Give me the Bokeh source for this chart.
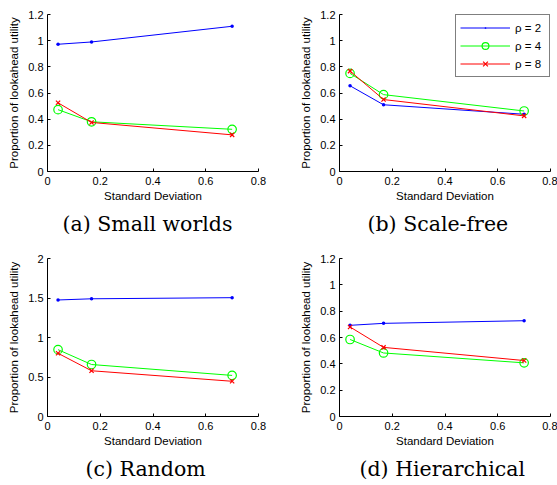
from bokeh.plotting import figure
from bokeh.layouts import column, row
from bokeh.models import FixedTicker, Legend, LegendItem, Range1d, Title
from bokeh.embed import file_html
from bokeh.resources import INLINE

# ---- data ----
std_dev = [0.04, 0.167, 0.7]

sw_rho2 = [0.9725, 0.99, 1.11]
sw_rho4 = [0.4725, 0.38, 0.3225]
sw_rho8 = [0.525, 0.375, 0.28]

sf_rho2 = [0.655, 0.51, 0.4375]
sf_rho4 = [0.75, 0.5875, 0.4625]
sf_rho8 = [0.7675, 0.55, 0.425]

rn_rho2 = [1.475, 1.49, 1.504]
rn_rho4 = [0.846, 0.658, 0.52]
rn_rho8 = [0.80, 0.579, 0.446]

hi_rho2 = [0.6925, 0.7075, 0.7275]
hi_rho4 = [0.585, 0.4825, 0.4075]
hi_rho8 = [0.68, 0.525, 0.425]

x_ticks = [0, 0.2, 0.4, 0.6, 0.8]
x_tick_labels = ["0", "0.2", "0.4", "0.6", "0.8"]
y_ticks_12 = [0, 0.2, 0.4, 0.6, 0.8, 1, 1.2]
y_tick_labels_12 = ["0", "0.2", "0.4", "0.6", "0.8", "1", "1.2"]
y_ticks_2 = [0, 0.5, 1, 1.5, 2]
y_tick_labels_2 = ["0", "0.5", "1", "1.5", "2"]

captions = ["(a) Small worlds", "(b) Scale-free", "(c) Random", "(d) Hierarchical"]
legend_labels = ["\u03c1 = 2", "\u03c1 = 4", "\u03c1 = 8"]
x_label = "Standard Deviation"
y_label = "Proportion of lookahead utility"

SANS = "Liberation Sans"
SERIF = "DejaVu Serif"


def make_panel(width, height, left, right, top, bottom, ymax, yticks, ylabels,
               r2, r4, r8, caption, cap_offset, with_legend=False):
    p = figure(width=width, height=height, output_backend="svg",
               toolbar_location=None,
               x_range=Range1d(0, 0.8), y_range=Range1d(0, ymax),
               min_border_left=left, min_border_right=right,
               min_border_top=top, min_border_bottom=bottom)
    p.outline_line_color = None
    p.background_fill_color = "white"
    p.border_fill_color = "white"
    p.grid.visible = False

    for ax in (p.xaxis[0], p.yaxis[0]):
        ax.axis_line_color = "black"
        ax.axis_line_width = 1
        ax.major_tick_line_color = "black"
        ax.major_tick_in = 3
        ax.major_tick_out = 0
        ax.minor_tick_line_color = None
        ax.major_label_text_font = SANS
        ax.major_label_text_font_size = "11px"
        ax.major_label_text_color = "black"
        ax.axis_label_text_font = SANS
        ax.axis_label_text_font_size = "11.5px"
        ax.axis_label_text_font_style = "normal"
        ax.axis_label_text_color = "black"

    p.xaxis.ticker = FixedTicker(ticks=x_ticks)
    p.xaxis.major_label_overrides = dict(zip(x_ticks, x_tick_labels))
    p.yaxis.ticker = FixedTicker(ticks=yticks)
    p.yaxis.major_label_overrides = dict(zip(yticks, ylabels))
    p.xaxis.axis_label = x_label
    p.yaxis.axis_label = y_label
    p.xaxis.major_label_standoff = 5
    p.xaxis.axis_label_standoff = 2
    p.yaxis.major_label_standoff = 4
    p.yaxis.axis_label_standoff = 5

    l2 = p.line(std_dev, r2, line_color="#0000ff", line_width=1)
    m2 = p.scatter(std_dev, r2, marker="dot", size=14, fill_color="#0000ff",
                   line_color="#0000ff", line_width=1)
    l4 = p.line(std_dev, r4, line_color="#00ff00", line_width=1)
    m4 = p.scatter(std_dev, r4, marker="circle", size=8.5, fill_color=None,
                   line_color="#00ff00", line_width=1.2)
    l8 = p.line(std_dev, r8, line_color="#ff0000", line_width=1)
    m8 = p.scatter(std_dev, r8, marker="x", size=6, line_color="#ff0000",
                   line_width=1.2)

    if with_legend:
        items = [LegendItem(label=legend_labels[0], renderers=[l2, m2]),
                 LegendItem(label=legend_labels[1], renderers=[l4, m4]),
                 LegendItem(label=legend_labels[2], renderers=[l8, m8])]
        leg = Legend(items=items, location="top_right", margin=0, padding=4,
                     spacing=1, glyph_width=50, glyph_height=17,
                     label_height=17, label_width=30, label_standoff=5,
                     label_text_font=SANS, label_text_font_size="11.5px",
                     label_text_color="black",
                     border_line_color="black", border_line_width=1.5,
                     background_fill_color="white", background_fill_alpha=1)
        p.add_layout(leg)

    cap = Title(text=caption, align="left", offset=cap_offset,
                text_font=SERIF, text_font_size="20.5px",
                text_font_style="normal", text_color="black", standoff=10)
    p.add_layout(cap, "below")
    return p


pa = make_panel(278, 240, 47, 20, 14, 66, 1.2, y_ticks_12, y_tick_labels_12,
                sw_rho2, sw_rho4, sw_rho8, captions[0], 15)
pb = make_panel(279, 240, 61, 7, 14, 66, 1.2, y_ticks_12, y_tick_labels_12,
                sf_rho2, sf_rho4, sf_rho8, captions[1], 28)
pc = make_panel(278, 245, 47, 20, 18, 67, 2, y_ticks_2, y_tick_labels_2,
                rn_rho2, rn_rho4, rn_rho8, captions[2], 38)
pd = make_panel(279, 245, 61, 7, 18, 67, 1.2, y_ticks_12, y_tick_labels_12,
                hi_rho2, hi_rho4, hi_rho8, captions[3], 20)

# legend only in panel (b)
pb_legend_panel = pb
items_b = [r for r in pb.renderers]
pb.add_layout(Legend(
    items=[LegendItem(label=legend_labels[0], renderers=items_b[0:2]),
           LegendItem(label=legend_labels[1], renderers=items_b[2:4]),
           LegendItem(label=legend_labels[2], renderers=items_b[4:6])],
    location="top_right", margin=0, padding=4, spacing=1, glyph_width=50,
    glyph_height=17, label_height=17, label_width=30, label_standoff=5,
    label_text_font=SANS, label_text_font_size="11.5px",
    label_text_color="black", border_line_color="black",
    border_line_width=1.5, background_fill_color="white",
    background_fill_alpha=1))

layout = column(row(pa, pb), row(pc, pd))

open("out.html", "w").write(file_html(layout, INLINE))
